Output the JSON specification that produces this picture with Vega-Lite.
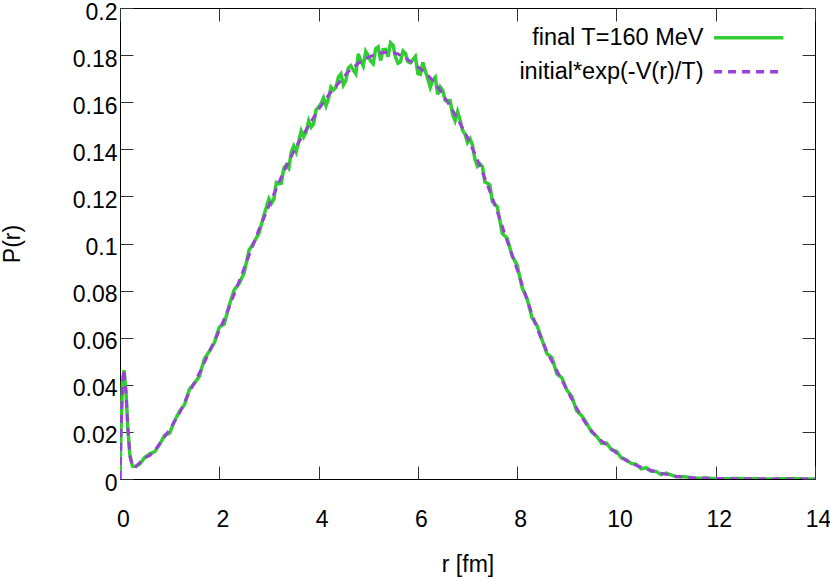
{
  "$schema": "https://vega.github.io/schema/vega-lite/v6.json",
  "width": 695,
  "height": 471,
  "autosize": {"type": "none"},
  "padding": {"left": 120, "top": 8, "right": 15, "bottom": 102},
  "background": "white",
  "config": {
    "view": {"stroke": "black", "strokeWidth": 1},
    "font": "Liberation Sans",
    "axis": {
      "domain": false,
      "grid": false,
      "tickColor": "#333333",
      "tickSize": -13,
      "tickWidth": 1,
      "labelFlush": false,
      "labelFont": "Liberation Sans",
      "labelColor": "black",
      "titleFont": "Liberation Sans",
      "titleFontWeight": "normal",
      "titleColor": "black"
    }
  },
  "resolve": {"axis": {"x": "independent", "y": "independent"}},
  "datasets": {
    "final": [
      {"r": 0, "P": 0}, {"r": 0.02, "P": 0.021}, {"r": 0.05, "P": 0.041}, {"r": 0.08, "P": 0.0462},
      {"r": 0.12, "P": 0.037}, {"r": 0.16, "P": 0.021}, {"r": 0.2, "P": 0.010}, {"r": 0.25, "P": 0.0055},
      {"r": 0.3, "P": 0.0053}, {"r": 0.4, "P": 0.0064}, {"r": 0.5, "P": 0.0092}, {"r": 0.6, "P": 0.0107},
      {"r": 0.7, "P": 0.0116}, {"r": 0.8, "P": 0.0148}, {"r": 0.9, "P": 0.0186}, {"r": 1.0, "P": 0.0195},
      {"r": 1.1, "P": 0.0247}, {"r": 1.2, "P": 0.0288}, {"r": 1.3, "P": 0.0316}, {"r": 1.4, "P": 0.0382},
      {"r": 1.5, "P": 0.0406}, {"r": 1.6, "P": 0.0437}, {"r": 1.7, "P": 0.0510}, {"r": 1.8, "P": 0.0543},
      {"r": 1.9, "P": 0.0578}, {"r": 2.0, "P": 0.0645}, {"r": 2.1, "P": 0.0658}, {"r": 2.2, "P": 0.0738},
      {"r": 2.3, "P": 0.0803}, {"r": 2.4, "P": 0.0830}, {"r": 2.5, "P": 0.0875}, {"r": 2.6, "P": 0.0972},
      {"r": 2.7, "P": 0.1005}, {"r": 2.8, "P": 0.1045}, {"r": 2.9, "P": 0.1120}, {"r": 3.0, "P": 0.1190},
      {"r": 3.1, "P": 0.1189}, {"r": 3.2, "P": 0.1254}, {"r": 3.3, "P": 0.1320}, {"r": 3.4, "P": 0.1320},
      {"r": 3.5, "P": 0.1414}, {"r": 3.6, "P": 0.1433}, {"r": 3.7, "P": 0.1453}, {"r": 3.8, "P": 0.1521},
      {"r": 3.9, "P": 0.1508}, {"r": 4.0, "P": 0.1579}, {"r": 4.1, "P": 0.1618}, {"r": 4.2, "P": 0.1615},
      {"r": 4.3, "P": 0.1652}, {"r": 4.4, "P": 0.1707}, {"r": 4.5, "P": 0.1673}, {"r": 4.6, "P": 0.1746},
      {"r": 4.7, "P": 0.1736}, {"r": 4.8, "P": 0.1805}, {"r": 4.9, "P": 0.1754}, {"r": 5.0, "P": 0.1798},
      {"r": 5.1, "P": 0.1763}, {"r": 5.2, "P": 0.1835}, {"r": 5.3, "P": 0.1823}, {"r": 5.4, "P": 0.1793},
      {"r": 5.5, "P": 0.1842}, {"r": 5.6, "P": 0.1765}, {"r": 5.7, "P": 0.1817}, {"r": 5.8, "P": 0.1772},
      {"r": 5.9, "P": 0.1781}, {"r": 6.0, "P": 0.1722}, {"r": 6.1, "P": 0.1769}, {"r": 6.2, "P": 0.1699},
      {"r": 6.3, "P": 0.1694}, {"r": 6.4, "P": 0.1633}, {"r": 6.5, "P": 0.1651}, {"r": 6.6, "P": 0.1606},
      {"r": 6.7, "P": 0.1547}, {"r": 6.8, "P": 0.1560}, {"r": 6.9, "P": 0.1481}, {"r": 7.0, "P": 0.1429},
      {"r": 7.1, "P": 0.1418}, {"r": 7.2, "P": 0.1328}, {"r": 7.3, "P": 0.1327}, {"r": 7.4, "P": 0.1256},
      {"r": 7.5, "P": 0.1178}, {"r": 7.6, "P": 0.1156}, {"r": 7.7, "P": 0.1043}, {"r": 7.8, "P": 0.1022},
      {"r": 7.9, "P": 0.0947}, {"r": 8.0, "P": 0.0908}, {"r": 8.1, "P": 0.0813}, {"r": 8.2, "P": 0.0766},
      {"r": 8.3, "P": 0.0684}, {"r": 8.4, "P": 0.0652}, {"r": 8.5, "P": 0.0592}, {"r": 8.6, "P": 0.0532},
      {"r": 8.7, "P": 0.0516}, {"r": 8.8, "P": 0.0446}, {"r": 8.9, "P": 0.0430}, {"r": 9.0, "P": 0.0378},
      {"r": 9.1, "P": 0.0351}, {"r": 9.2, "P": 0.0289}, {"r": 9.3, "P": 0.0269}, {"r": 9.4, "P": 0.0237},
      {"r": 9.5, "P": 0.0199}, {"r": 9.6, "P": 0.0182}, {"r": 9.7, "P": 0.0152}, {"r": 9.8, "P": 0.0153},
      {"r": 9.9, "P": 0.0124}, {"r": 10.0, "P": 0.0118}, {"r": 10.1, "P": 0.0089}, {"r": 10.2, "P": 0.0081},
      {"r": 10.3, "P": 0.0066}, {"r": 10.4, "P": 0.0062}, {"r": 10.5, "P": 0.0043}, {"r": 10.6, "P": 0.0048},
      {"r": 10.7, "P": 0.0033}, {"r": 10.8, "P": 0.0032}, {"r": 10.9, "P": 0.0019}, {"r": 11.0, "P": 0.0025},
      {"r": 11.2, "P": 0.0010}, {"r": 11.4, "P": 0.0009}, {"r": 11.6, "P": 0.0003}, {"r": 11.8, "P": 0.0004},
      {"r": 12.0, "P": 0.0001}, {"r": 12.5, "P": 0.0002}, {"r": 13.0, "P": 0.0}, {"r": 13.5, "P": 0.0001},
      {"r": 14.0, "P": 0},
      {"r": 3.05, "P": 0.1170}, {"r": 3.15, "P": 0.1259}, {"r": 3.25, "P": 0.1256}, {"r": 3.35, "P": 0.1334},
      {"r": 3.45, "P": 0.1388}, {"r": 3.55, "P": 0.1389}, {"r": 3.65, "P": 0.1478}, {"r": 3.75, "P": 0.1474},
      {"r": 3.85, "P": 0.1494}, {"r": 3.95, "P": 0.1568}, {"r": 4.05, "P": 0.1594}, {"r": 4.15, "P": 0.1585},
      {"r": 4.25, "P": 0.1664}, {"r": 4.35, "P": 0.1662}, {"r": 4.45, "P": 0.1720}, {"r": 4.55, "P": 0.1693},
      {"r": 4.65, "P": 0.1755}, {"r": 4.75, "P": 0.1721}, {"r": 4.85, "P": 0.1776}, {"r": 4.95, "P": 0.1816},
      {"r": 5.05, "P": 0.1774}, {"r": 5.15, "P": 0.1827}, {"r": 5.25, "P": 0.1777}, {"r": 5.35, "P": 0.1824},
      {"r": 5.45, "P": 0.1852}, {"r": 5.55, "P": 0.1792}, {"r": 5.65, "P": 0.1771}, {"r": 5.75, "P": 0.1807},
      {"r": 5.85, "P": 0.1768}, {"r": 5.95, "P": 0.1794}, {"r": 6.05, "P": 0.1718}, {"r": 6.15, "P": 0.1732},
      {"r": 6.25, "P": 0.1663}, {"r": 6.35, "P": 0.1706}, {"r": 6.45, "P": 0.1665}, {"r": 6.55, "P": 0.1608},
      {"r": 6.65, "P": 0.1607}, {"r": 6.75, "P": 0.1521}, {"r": 6.85, "P": 0.1525}, {"r": 6.95, "P": 0.1464},
      {"r": 7.05, "P": 0.1445}, {"r": 7.15, "P": 0.1358}, {"r": 7.25, "P": 0.1338}, {"r": 7.35, "P": 0.1261},
      {"r": 7.45, "P": 0.1249}
    ],
    "initial": [
      {"r": 0, "P": 0}, {"r": 0.02, "P": 0.02}, {"r": 0.05, "P": 0.040}, {"r": 0.08, "P": 0.0465},
      {"r": 0.12, "P": 0.037}, {"r": 0.16, "P": 0.021}, {"r": 0.2, "P": 0.010}, {"r": 0.25, "P": 0.0055},
      {"r": 0.3, "P": 0.0048}, {"r": 0.4, "P": 0.0070}, {"r": 0.5, "P": 0.0090}, {"r": 0.6, "P": 0.0100},
      {"r": 0.7, "P": 0.0120}, {"r": 0.8, "P": 0.0150}, {"r": 0.9, "P": 0.0180}, {"r": 1.0, "P": 0.0210},
      {"r": 1.1, "P": 0.0245}, {"r": 1.2, "P": 0.0280}, {"r": 1.3, "P": 0.0325}, {"r": 1.4, "P": 0.0370},
      {"r": 1.5, "P": 0.0410}, {"r": 1.6, "P": 0.0450}, {"r": 1.7, "P": 0.0495}, {"r": 1.8, "P": 0.0540},
      {"r": 1.9, "P": 0.0585}, {"r": 2.0, "P": 0.0630}, {"r": 2.1, "P": 0.0680}, {"r": 2.2, "P": 0.0730},
      {"r": 2.3, "P": 0.0785}, {"r": 2.4, "P": 0.0840}, {"r": 2.5, "P": 0.0895}, {"r": 2.6, "P": 0.0950},
      {"r": 2.7, "P": 0.1005}, {"r": 2.8, "P": 0.1060}, {"r": 2.9, "P": 0.1110}, {"r": 3.0, "P": 0.1160},
      {"r": 3.1, "P": 0.1210}, {"r": 3.2, "P": 0.1260}, {"r": 3.3, "P": 0.1305}, {"r": 3.4, "P": 0.1350},
      {"r": 3.5, "P": 0.1390}, {"r": 3.6, "P": 0.1430}, {"r": 3.7, "P": 0.1465}, {"r": 3.8, "P": 0.1500},
      {"r": 3.9, "P": 0.1535}, {"r": 4.0, "P": 0.1570}, {"r": 4.1, "P": 0.1600}, {"r": 4.2, "P": 0.1630},
      {"r": 4.3, "P": 0.1655}, {"r": 4.4, "P": 0.1680}, {"r": 4.5, "P": 0.1705}, {"r": 4.6, "P": 0.1730},
      {"r": 4.7, "P": 0.1748}, {"r": 4.8, "P": 0.1765}, {"r": 4.9, "P": 0.1778}, {"r": 5.0, "P": 0.1790},
      {"r": 5.1, "P": 0.1799}, {"r": 5.2, "P": 0.1807}, {"r": 5.3, "P": 0.1811}, {"r": 5.4, "P": 0.1813},
      {"r": 5.5, "P": 0.1810}, {"r": 5.6, "P": 0.1805}, {"r": 5.7, "P": 0.1793}, {"r": 5.8, "P": 0.1780},
      {"r": 5.9, "P": 0.1765}, {"r": 6.0, "P": 0.1750}, {"r": 6.1, "P": 0.1733}, {"r": 6.2, "P": 0.1715},
      {"r": 6.3, "P": 0.1690}, {"r": 6.4, "P": 0.1665}, {"r": 6.5, "P": 0.1633}, {"r": 6.6, "P": 0.1600},
      {"r": 6.7, "P": 0.1565}, {"r": 6.8, "P": 0.1530}, {"r": 6.9, "P": 0.1490}, {"r": 7.0, "P": 0.1450},
      {"r": 7.1, "P": 0.1403}, {"r": 7.2, "P": 0.1355}, {"r": 7.3, "P": 0.1303}, {"r": 7.4, "P": 0.1250},
      {"r": 7.5, "P": 0.1193}, {"r": 7.6, "P": 0.1135}, {"r": 7.7, "P": 0.1073}, {"r": 7.8, "P": 0.1010},
      {"r": 7.9, "P": 0.0950}, {"r": 8.0, "P": 0.0890}, {"r": 8.1, "P": 0.0825}, {"r": 8.2, "P": 0.0760},
      {"r": 8.3, "P": 0.0700}, {"r": 8.4, "P": 0.0640}, {"r": 8.5, "P": 0.0590}, {"r": 8.6, "P": 0.0540},
      {"r": 8.7, "P": 0.0500}, {"r": 8.8, "P": 0.0460}, {"r": 8.9, "P": 0.0420}, {"r": 9.0, "P": 0.0380},
      {"r": 9.1, "P": 0.0340}, {"r": 9.2, "P": 0.0300}, {"r": 9.3, "P": 0.0265}, {"r": 9.4, "P": 0.0230},
      {"r": 9.5, "P": 0.0205}, {"r": 9.6, "P": 0.0180}, {"r": 9.7, "P": 0.0162}, {"r": 9.8, "P": 0.0145},
      {"r": 9.9, "P": 0.0128}, {"r": 10.0, "P": 0.0110}, {"r": 10.1, "P": 0.0094}, {"r": 10.2, "P": 0.0078},
      {"r": 10.3, "P": 0.0068}, {"r": 10.4, "P": 0.0058}, {"r": 10.5, "P": 0.0050}, {"r": 10.6, "P": 0.0042},
      {"r": 10.7, "P": 0.0036}, {"r": 10.8, "P": 0.0030}, {"r": 10.9, "P": 0.0025}, {"r": 11.0, "P": 0.0020},
      {"r": 11.2, "P": 0.0012}, {"r": 11.4, "P": 0.0007}, {"r": 11.6, "P": 0.0004}, {"r": 11.8, "P": 0.0003},
      {"r": 12.0, "P": 0.0002}, {"r": 12.5, "P": 0.0001}, {"r": 13.0, "P": 0.00005}, {"r": 13.5, "P": 0.00002},
      {"r": 14.0, "P": 0}
    ]
  },
  "layer": [
    {
      "data": {"name": "final"},
      "mark": {"type": "line", "strokeWidth": 3.5, "strokeJoin": "miter", "clip": true},
      "encoding": {
        "x": {"field": "r", "type": "quantitative", "scale": {"domain": [0, 14], "nice": false},
              "axis": {"title": "r [fm]", "values": [0, 2, 4, 6, 8, 10, 12, 14], "labelFontSize": 23, "titleFontSize": 23,
                       "labelPadding": 42, "labelOffset": 3, "titlePadding": 22}},
        "y": {"field": "P", "type": "quantitative", "scale": {"domain": [0, 0.2], "nice": false},
              "axis": {"title": "P(r)", "format": "~g", "values": [0, 0.02, 0.04, 0.06, 0.08, 0.1, 0.12, 0.14, 0.16, 0.18, 0.2],
                       "labelFontSize": 23, "titleFontSize": 23, "labelPadding": 16, "labelOffset": 4, "titlePadding": 48}},
        "color": {"datum": "final T=160 MeV", "type": "nominal",
                  "scale": {"domain": ["final T=160 MeV", "initial*exp(-V(r)/T)"], "range": ["#32cd32", "#9b3fdb"]},
                  "legend": {"title": null, "orient": "none", "legendX": 617, "legendY": 18,
                             "symbolType": "M-4,0H4", "symbolSize": 300, "symbolStrokeWidth": 3.5,
                             "labelFont": "Liberation Sans", "labelFontSize": 23.5, "labelColor": "black",
                             "labelAlign": "right", "labelOffset": -57, "rowPadding": 9, "labelLimit": 400}},
        "strokeDash": {"datum": "final T=160 MeV", "type": "nominal",
                       "scale": {"domain": ["final T=160 MeV", "initial*exp(-V(r)/T)"], "range": [[1, 0], [8, 6]]},
                       "legend": null}
      }
    },
    {
      "data": {"name": "initial"},
      "mark": {"type": "line", "strokeWidth": 3, "clip": true},
      "encoding": {
        "x": {"field": "r", "type": "quantitative",
              "axis": {"orient": "top", "labels": false, "title": null, "values": [0, 2, 4, 6, 8, 10, 12, 14]}},
        "y": {"field": "P", "type": "quantitative",
              "axis": {"orient": "right", "labels": false, "title": null, "values": [0, 0.02, 0.04, 0.06, 0.08, 0.1, 0.12, 0.14, 0.16, 0.18, 0.2]}},
        "color": {"datum": "initial*exp(-V(r)/T)", "type": "nominal"},
        "strokeDash": {"datum": "initial*exp(-V(r)/T)", "type": "nominal"}
      }
    }
  ]
}
